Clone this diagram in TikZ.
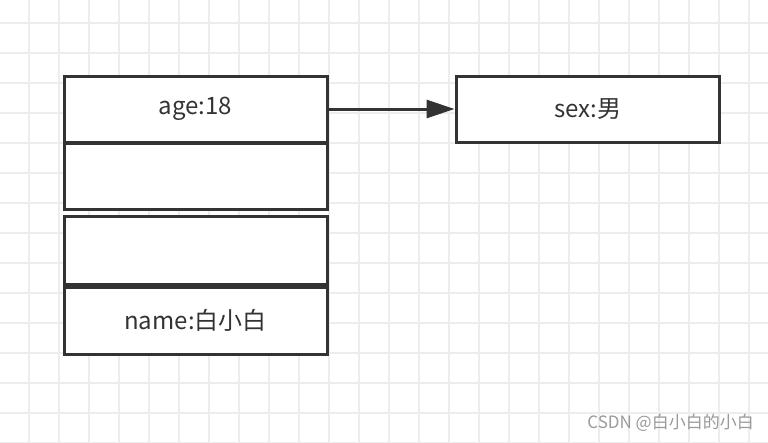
\documentclass[tikz,border=0pt]{standalone}
\usepackage{fontspec}
\setmainfont{Noto Sans CJK SC}
\usetikzlibrary{arrows.meta}
\definecolor{ink}{HTML}{333333}
\definecolor{gridc}{HTML}{EDEDED}
\definecolor{wm}{HTML}{9A9A9A}
\begin{document}
\begin{tikzpicture}[x=1pt,y=-1pt,
  cell/.style={draw=ink,line width=3pt,fill=white,minimum width=263pt,minimum height=66pt,inner sep=0pt,text=ink,font=\fontsize{24}{28}\selectfont,anchor=north west},
  link/.style={draw=ink,line width=3pt,-{Triangle[length=28pt,width=18pt]}}]
\useasboundingbox (0,0) rectangle (768,442);
\fill[white] (0,0) rectangle (768,442);
\foreach \i in {0,...,25} {\draw[gridc,line width=1.5pt] (29+30*\i,0) -- (29+30*\i,442);}
\foreach \j in {0,...,14} {\draw[gridc,line width=1.5pt] (0,23+30*\j) -- (768,23+30*\j);}
\node[cell] (age) at (62.5,74.5) {age:18};
\node[cell] (e1) at (62.5,142) {};
\node[cell,minimum height=68pt] (e2) at (62.5,214.5) {};
\node[cell,minimum height=67pt] (name) at (62.5,285.5) {name:白小白};
\node[cell] (sex) at (454.5,74.5) {sex:男};
\draw[link] (age.east) -- (sex.west);
\node[text=wm,font=\fontsize{17}{20}\selectfont,anchor=east,inner sep=0pt] (mark) at (754,423) {CSDN @白小白的小白};
\end{tikzpicture}
\end{document}
